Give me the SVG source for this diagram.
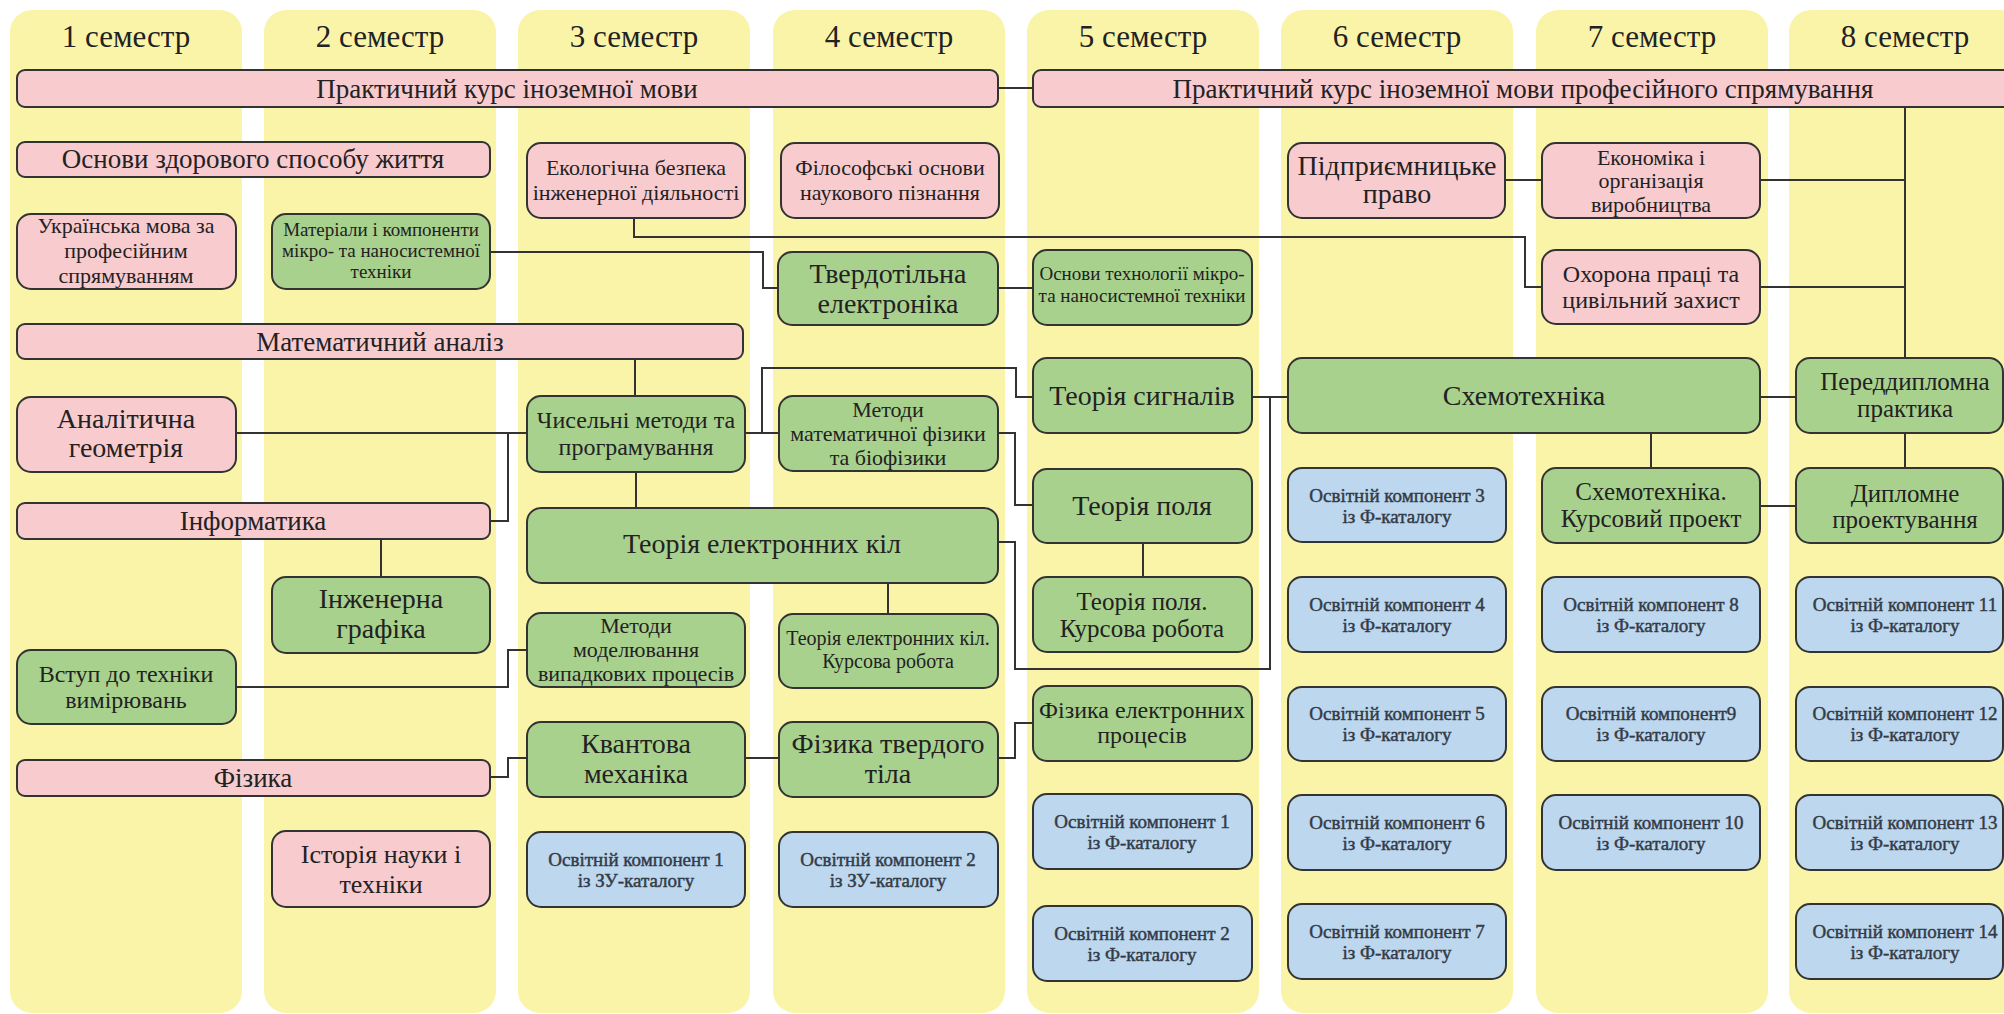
<svg xmlns="http://www.w3.org/2000/svg" width="2004" height="1014" viewBox="0 0 2004 1014">
<style>
.bg{fill:#ffffff}
.col{fill:#FAF4A9}
.p{fill:#F8CBCF;stroke:#333;stroke-width:2}
.g{fill:#A9D18E;stroke:#333;stroke-width:2}
.b{fill:#BDD7EE;stroke:#333;stroke-width:2}
text{font-family:"Liberation Serif","DejaVu Serif",serif;fill:#222;text-anchor:middle}
.h{font-size:31px}
.l{font-size:27px}
.xl{font-size:28px}
.m{font-size:22px}
.s{font-size:19px}
.bt{font-size:19px;fill:#333B47;stroke:#333B47;stroke-width:0.45}
.c{fill:none;stroke:#333;stroke-width:2}
</style>
<rect class="bg" x="0" y="0" width="2004" height="1014"/>
<g id="columns">
<rect class="col" x="10" y="10" width="232" height="1003" rx="22"/>
<rect class="col" x="264" y="10" width="232" height="1003" rx="22"/>
<rect class="col" x="518" y="10" width="232" height="1003" rx="22"/>
<rect class="col" x="773" y="10" width="232" height="1003" rx="22"/>
<rect class="col" x="1027" y="10" width="232" height="1003" rx="22"/>
<rect class="col" x="1281" y="10" width="232" height="1003" rx="22"/>
<rect class="col" x="1536" y="10" width="232" height="1003" rx="22"/>
<rect class="col" x="1789" y="10" width="232" height="1003" rx="22"/>
<text class="h" x="126" y="47">1 семестр</text>
<text class="h" x="380" y="47">2 семестр</text>
<text class="h" x="634" y="47">3 семестр</text>
<text class="h" x="889" y="47">4 семестр</text>
<text class="h" x="1143" y="47">5 семестр</text>
<text class="h" x="1397" y="47">6 семестр</text>
<text class="h" x="1652" y="47">7 семестр</text>
<text class="h" x="1905" y="47">8 семестр</text>
</g>
<g id="connectors">
<path class="c" d="M998 88H1033"/>
<path class="c" d="M490 252H763V288H778"/>
<path class="c" d="M634 218V237H1525V287H1542"/>
<path class="c" d="M998 288H1033"/>
<path class="c" d="M1505 180H1542"/>
<path class="c" d="M1760 180H1905"/>
<path class="c" d="M1760 287H1905"/>
<path class="c" d="M1905 107V358"/>
<path class="c" d="M635 359V396"/>
<path class="c" d="M236 433H527"/>
<path class="c" d="M490 521H508V433"/>
<path class="c" d="M381 539V577"/>
<path class="c" d="M745 433H779"/>
<path class="c" d="M762 433V368H1016V397H1033"/>
<path class="c" d="M998 433H1015V505H1033"/>
<path class="c" d="M636 472V508"/>
<path class="c" d="M998 542H1015V669H1270V397"/>
<path class="c" d="M1252 397H1288"/>
<path class="c" d="M888 583V614"/>
<path class="c" d="M1143 543V577"/>
<path class="c" d="M236 687H508V650H527"/>
<path class="c" d="M490 777H508V758H527"/>
<path class="c" d="M745 758H779"/>
<path class="c" d="M998 758H1015V723H1033"/>
<path class="c" d="M1760 397H1796"/>
<path class="c" d="M1651 433V468"/>
<path class="c" d="M1760 506H1796"/>
<path class="c" d="M1905 433V468"/>
</g>
<g id="n-prak1"><rect class="p" x="17" y="70" width="981" height="37" rx="8"/><text class="l" x="507" y="98">Практичний курс іноземної мови</text></g>
<g id="n-prak2"><rect class="p" x="1033" y="70" width="980" height="37" rx="8"/><text class="l" x="1523" y="98">Практичний курс іноземної мови професійного спрямування</text></g>
<g id="n-zdorov"><rect class="p" x="17" y="142" width="473" height="35" rx="8"/><text class="l" x="253" y="168">Основи здорового способу життя</text></g>
<g id="n-ukr"><rect class="p" x="17" y="214" width="219" height="75" rx="14"/><text class="m" x="126"><tspan x="126" y="233">Українська мова за</tspan><tspan x="126" y="258">професійним</tspan><tspan x="126" y="283">спрямуванням</tspan></text></g>
<g id="n-mater"><rect class="g" x="272" y="214" width="218" height="75" rx="14"/><text class="s" x="381"><tspan x="381" y="236">Матеріали і компоненти</tspan><tspan x="381" y="257">мікро- та наносистемної</tspan><tspan x="381" y="278">техніки</tspan></text></g>
<g id="n-ekol"><rect class="p" x="527" y="143" width="218" height="75" rx="14"/><text class="m" x="636"><tspan x="636" y="175">Екологічна безпека</tspan><tspan x="636" y="200">інженерної діяльності</tspan></text></g>
<g id="n-filos"><rect class="p" x="781" y="143" width="218" height="75" rx="14"/><text class="m" x="890"><tspan x="890" y="175">Філософські основи</tspan><tspan x="890" y="200">наукового пізнання</tspan></text></g>
<g id="n-tverd"><rect class="g" x="778" y="252" width="220" height="73" rx="14"/><text class="xl" x="888"><tspan x="888" y="283">Твердотільна</tspan><tspan x="888" y="313">електроніка</tspan></text></g>
<g id="n-osntech"><rect class="g" x="1033" y="250" width="219" height="75" rx="14"/><text class="s" x="1142"><tspan x="1142" y="280">Основи технології мікро-</tspan><tspan x="1142" y="302">та наносистемної техніки</tspan></text></g>
<g id="n-pidpr"><rect class="p" x="1288" y="143" width="217" height="75" rx="14"/><text class="xl" x="1397"><tspan x="1397" y="175">Підприємницьке</tspan><tspan x="1397" y="203">право</tspan></text></g>
<g id="n-econ"><rect class="p" x="1542" y="143" width="218" height="75" rx="14"/><text class="m" x="1651"><tspan x="1651" y="165">Економіка і</tspan><tspan x="1651" y="188">організація</tspan><tspan x="1651" y="212">виробництва</tspan></text></g>
<g id="n-ohor"><rect class="p" x="1542" y="250" width="218" height="74" rx="14"/><text class="m" x="1651" style="font-size:24px"><tspan x="1651" y="282">Охорона праці та</tspan><tspan x="1651" y="308">цивільний захист</tspan></text></g>
<g id="n-matan"><rect class="p" x="17" y="324" width="726" height="35" rx="8"/><text class="l" x="380" y="351">Математичний аналіз</text></g>
<g id="n-analit"><rect class="p" x="17" y="397" width="219" height="75" rx="14"/><text class="xl" x="126"><tspan x="126" y="428">Аналітична</tspan><tspan x="126" y="457">геометрія</tspan></text></g>
<g id="n-inform"><rect class="p" x="17" y="503" width="473" height="36" rx="8"/><text class="l" x="253" y="530">Інформатика</text></g>
<g id="n-inzh"><rect class="g" x="272" y="577" width="218" height="76" rx="14"/><text class="xl" x="381"><tspan x="381" y="608">Інженерна</tspan><tspan x="381" y="638">графіка</tspan></text></g>
<g id="n-chys"><rect class="g" x="527" y="396" width="218" height="76" rx="14"/><text class="m" x="636" style="font-size:24px"><tspan x="636" y="428">Чисельні методи та</tspan><tspan x="636" y="455">програмування</tspan></text></g>
<g id="n-metmf"><rect class="g" x="779" y="396" width="219" height="75" rx="14"/><text class="m" x="888"><tspan x="888" y="417">Методи</tspan><tspan x="888" y="441">математичної фізики</tspan><tspan x="888" y="465">та біофізики</tspan></text></g>
<g id="n-tek"><rect class="g" x="527" y="508" width="471" height="75" rx="14"/><text class="xl" x="762" y="553">Теорія електронних кіл</text></g>
<g id="n-tsyg"><rect class="g" x="1033" y="358" width="219" height="75" rx="14"/><text class="xl" x="1142" y="405">Теорія сигналів</text></g>
<g id="n-tpol"><rect class="g" x="1033" y="469" width="219" height="74" rx="14"/><text class="xl" x="1142" y="515">Теорія поля</text></g>
<g id="n-tpolk"><rect class="g" x="1033" y="577" width="219" height="75" rx="14"/><text class="m" x="1142" style="font-size:25px"><tspan x="1142" y="610">Теорія поля.</tspan><tspan x="1142" y="637">Курсова робота</tspan></text></g>
<g id="n-metmod"><rect class="g" x="527" y="613" width="218" height="74" rx="14"/><text class="m" x="636"><tspan x="636" y="633">Методи</tspan><tspan x="636" y="657">моделювання</tspan><tspan x="636" y="681">випадкових процесів</tspan></text></g>
<g id="n-tekk"><rect class="g" x="779" y="614" width="219" height="74" rx="14"/><text class="m" x="888" style="font-size:20px"><tspan x="888" y="645">Теорія електронних кіл.</tspan><tspan x="888" y="668">Курсова робота</tspan></text></g>
<g id="n-vstup"><rect class="g" x="17" y="650" width="219" height="74" rx="14"/><text class="m" x="126" style="font-size:24px"><tspan x="126" y="682">Вступ до техніки</tspan><tspan x="126" y="708">вимірювань</tspan></text></g>
<g id="n-fiz"><rect class="p" x="17" y="760" width="473" height="36" rx="8"/><text class="l" x="253" y="787">Фізика</text></g>
<g id="n-kvant"><rect class="g" x="527" y="722" width="218" height="75" rx="14"/><text class="xl" x="636"><tspan x="636" y="753">Квантова</tspan><tspan x="636" y="783">механіка</tspan></text></g>
<g id="n-ftt"><rect class="g" x="779" y="722" width="219" height="75" rx="14"/><text class="xl" x="888"><tspan x="888" y="753">Фізика твердого</tspan><tspan x="888" y="783">тіла</tspan></text></g>
<g id="n-ist"><rect class="p" x="272" y="831" width="218" height="76" rx="14"/><text class="xl" x="381" style="font-size:26px"><tspan x="381" y="863">Історія науки і</tspan><tspan x="381" y="893">техніки</tspan></text></g>
<g id="n-ok1zu"><rect class="b" x="527" y="832" width="218" height="75" rx="14"/><text class="bt" x="636"><tspan x="636" y="866">Освітній компонент 1</tspan><tspan x="636" y="887">із ЗУ-каталогу</tspan></text></g>
<g id="n-ok2zu"><rect class="b" x="779" y="832" width="219" height="75" rx="14"/><text class="bt" x="888"><tspan x="888" y="866">Освітній компонент 2</tspan><tspan x="888" y="887">із ЗУ-каталогу</tspan></text></g>
<g id="n-fep"><rect class="g" x="1033" y="686" width="219" height="75" rx="14"/><text class="m" x="1142" style="font-size:24px"><tspan x="1142" y="718">Фізика електронних</tspan><tspan x="1142" y="743">процесів</tspan></text></g>
<g id="n-ok1f"><rect class="b" x="1033" y="794" width="219" height="75" rx="14"/><text class="bt" x="1142"><tspan x="1142" y="828">Освітній компонент 1</tspan><tspan x="1142" y="849">із Ф-каталогу</tspan></text></g>
<g id="n-ok2f"><rect class="b" x="1033" y="906" width="219" height="75" rx="14"/><text class="bt" x="1142"><tspan x="1142" y="940">Освітній компонент 2</tspan><tspan x="1142" y="961">із Ф-каталогу</tspan></text></g>
<g id="n-schemo"><rect class="g" x="1288" y="358" width="472" height="75" rx="14"/><text class="xl" x="1524" y="405">Схемотехніка</text></g>
<g id="n-ok3"><rect class="b" x="1288" y="468" width="218" height="74" rx="14"/><text class="bt" x="1397"><tspan x="1397" y="502">Освітній компонент 3</tspan><tspan x="1397" y="523">із Ф-каталогу</tspan></text></g>
<g id="n-ok4"><rect class="b" x="1288" y="577" width="218" height="75" rx="14"/><text class="bt" x="1397"><tspan x="1397" y="611">Освітній компонент 4</tspan><tspan x="1397" y="632">із Ф-каталогу</tspan></text></g>
<g id="n-ok5"><rect class="b" x="1288" y="687" width="218" height="74" rx="14"/><text class="bt" x="1397"><tspan x="1397" y="720">Освітній компонент 5</tspan><tspan x="1397" y="741">із Ф-каталогу</tspan></text></g>
<g id="n-ok6"><rect class="b" x="1288" y="795" width="218" height="75" rx="14"/><text class="bt" x="1397"><tspan x="1397" y="829">Освітній компонент 6</tspan><tspan x="1397" y="850">із Ф-каталогу</tspan></text></g>
<g id="n-ok7"><rect class="b" x="1288" y="904" width="218" height="75" rx="14"/><text class="bt" x="1397"><tspan x="1397" y="938">Освітній компонент 7</tspan><tspan x="1397" y="959">із Ф-каталогу</tspan></text></g>
<g id="n-schk"><rect class="g" x="1542" y="468" width="218" height="75" rx="14"/><text class="m" x="1651" style="font-size:25px"><tspan x="1651" y="500">Схемотехніка.</tspan><tspan x="1651" y="527">Курсовий проект</tspan></text></g>
<g id="n-ok8"><rect class="b" x="1542" y="577" width="218" height="75" rx="14"/><text class="bt" x="1651"><tspan x="1651" y="611">Освітній компонент 8</tspan><tspan x="1651" y="632">із Ф-каталогу</tspan></text></g>
<g id="n-ok9"><rect class="b" x="1542" y="687" width="218" height="74" rx="14"/><text class="bt" x="1651"><tspan x="1651" y="720">Освітній компонент9</tspan><tspan x="1651" y="741">із Ф-каталогу</tspan></text></g>
<g id="n-ok10"><rect class="b" x="1542" y="795" width="218" height="75" rx="14"/><text class="bt" x="1651"><tspan x="1651" y="829">Освітній компонент 10</tspan><tspan x="1651" y="850">із Ф-каталогу</tspan></text></g>
<g id="n-pered"><rect class="g" x="1796" y="358" width="207" height="75" rx="14"/><text class="m" x="1905" style="font-size:25px"><tspan x="1905" y="390">Переддипломна</tspan><tspan x="1905" y="417">практика</tspan></text></g>
<g id="n-dypl"><rect class="g" x="1796" y="468" width="207" height="75" rx="14"/><text class="m" x="1905" style="font-size:25px"><tspan x="1905" y="502">Дипломне</tspan><tspan x="1905" y="528">проектування</tspan></text></g>
<g id="n-ok11"><rect class="b" x="1796" y="577" width="207" height="75" rx="14"/><text class="bt" x="1905"><tspan x="1905" y="611">Освітній компонент 11</tspan><tspan x="1905" y="632">із Ф-каталогу</tspan></text></g>
<g id="n-ok12"><rect class="b" x="1796" y="687" width="207" height="74" rx="14"/><text class="bt" x="1905"><tspan x="1905" y="720">Освітній компонент 12</tspan><tspan x="1905" y="741">із Ф-каталогу</tspan></text></g>
<g id="n-ok13"><rect class="b" x="1796" y="795" width="207" height="75" rx="14"/><text class="bt" x="1905"><tspan x="1905" y="829">Освітній компонент 13</tspan><tspan x="1905" y="850">із Ф-каталогу</tspan></text></g>
<g id="n-ok14"><rect class="b" x="1796" y="904" width="207" height="75" rx="14"/><text class="bt" x="1905"><tspan x="1905" y="938">Освітній компонент 14</tspan><tspan x="1905" y="959">із Ф-каталогу</tspan></text></g>
</svg>
